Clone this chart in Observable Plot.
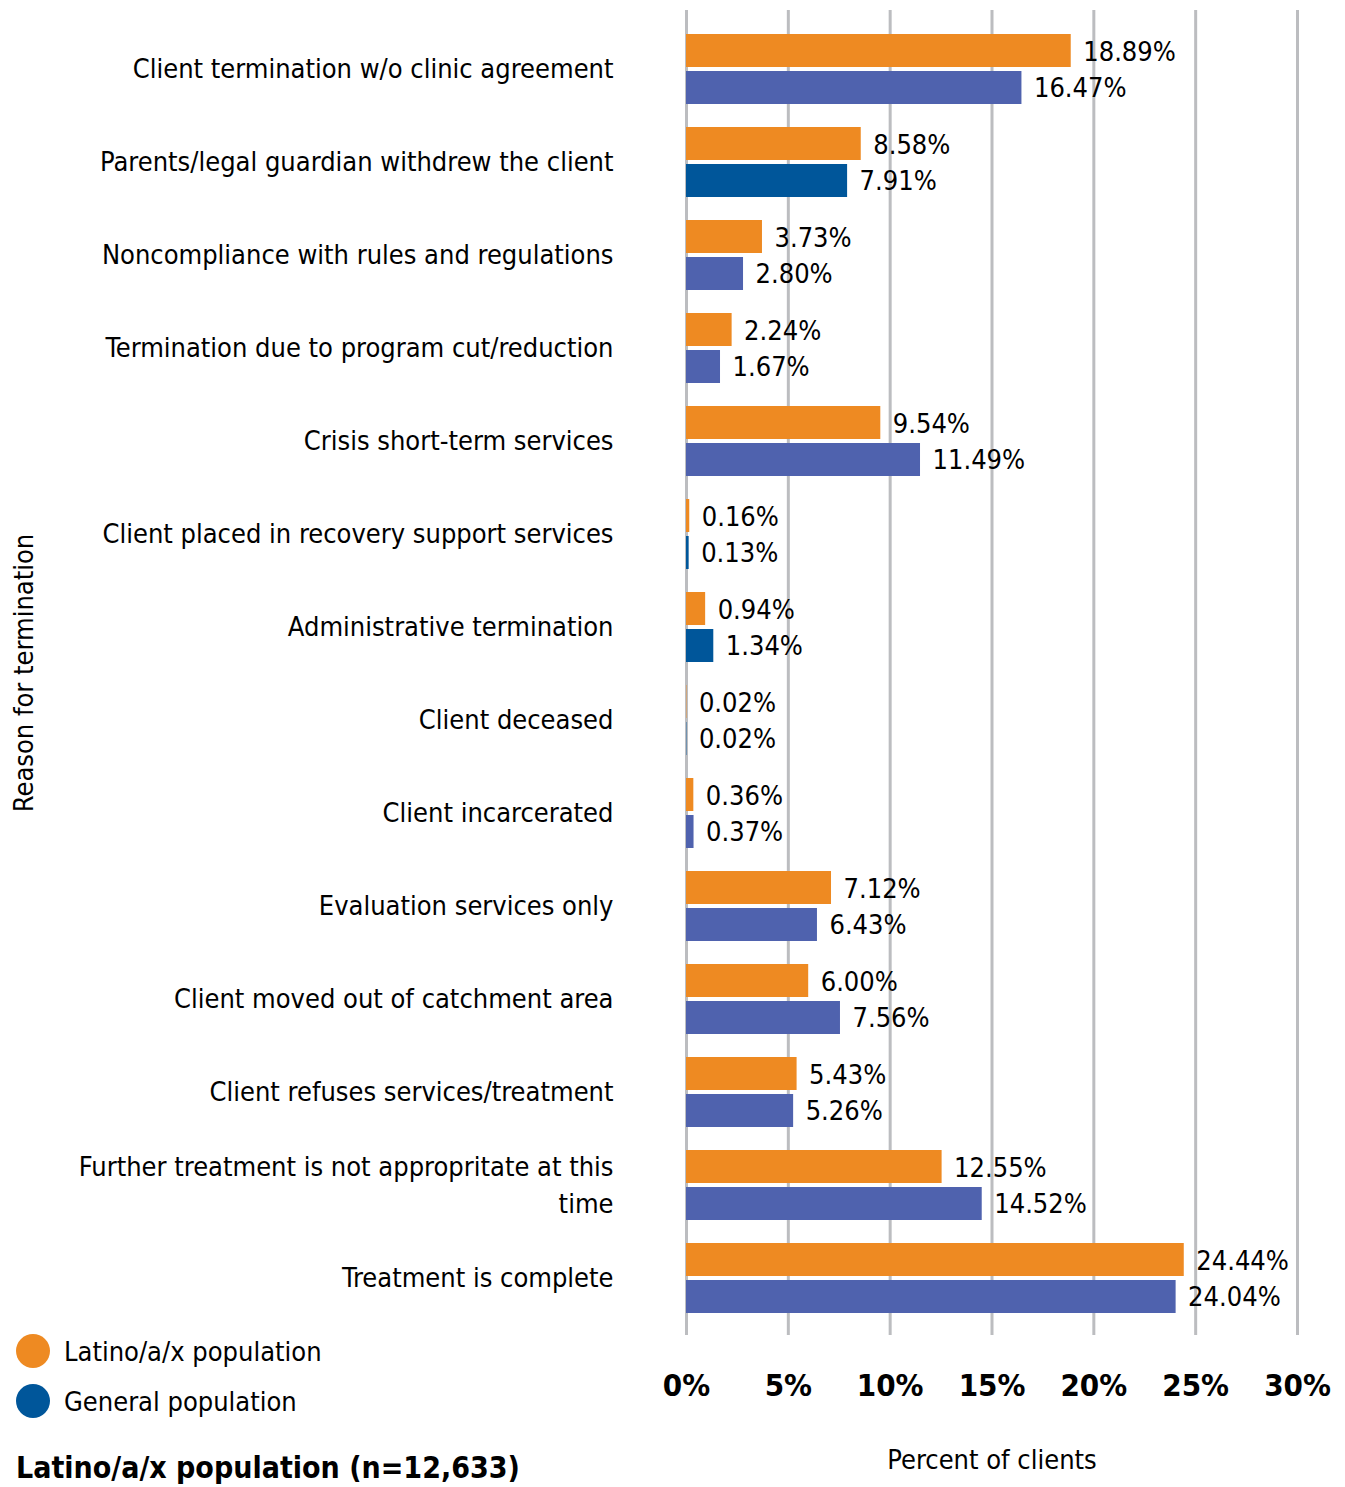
<!DOCTYPE html>
<html>
<head>
<meta charset="utf-8">
<script src="https://cdn.jsdelivr.net/npm/d3@7"></script>
<script src="https://cdn.jsdelivr.net/npm/@observablehq/plot@0.6"></script>
<style>
  html, body { margin: 0; padding: 0; background: #fff; }
  #wrap { position: relative; width: 1345px; height: 1487px; overflow: hidden; font-family: "DejaVu Sans Condensed", "DejaVu Sans", sans-serif; font-stretch: condensed; color: #000; }
  #wrap svg, #wrap svg text { font-stretch: condensed; }
  #legend { position: absolute; left: 16px; top: 1326px; }
  .item { display: flex; align-items: center; height: 50px; font-size: 27px; }
  .dot { width: 34px; height: 34px; border-radius: 50%; margin-right: 14px; }
  #caption { position: absolute; left: 16px; top: 1450px; font-size: 30px; font-weight: bold; white-space: nowrap; }
</style>
</head>
<body>
<div id="wrap">
  <div id="chart"></div>
  <div id="legend"></div>
  <div id="caption"></div>
</div>
<script>
const categories = [
  "Client termination w/o clinic agreement",
  "Parents/legal guardian withdrew the client",
  "Noncompliance with rules and regulations",
  "Termination due to program cut/reduction",
  "Crisis short-term services",
  "Client placed in recovery support services",
  "Administrative termination",
  "Client deceased",
  "Client incarcerated",
  "Evaluation services only",
  "Client moved out of catchment area",
  "Client refuses services/treatment",
  "Further treatment is not appropritate at this\ntime",
  "Treatment is complete"
];
const latino  = [18.89, 8.58, 3.73, 2.24, 9.54, 0.16, 0.94, 0.02, 0.36, 7.12, 6.00, 5.43, 12.55, 24.44];
const general = [16.47, 7.91, 2.80, 1.67, 11.49, 0.13, 1.34, 0.02, 0.37, 6.43, 7.56, 5.26, 14.52, 24.04];
const generalShade = ["light","dark","light","light","light","dark","dark","dark","light","light","light","light","light","light"];
const seriesNames = ["Latino/a/x population", "General population"];
const xTicks = [0, 5, 10, 15, 20, 25, 30];
const xLabel = "Percent of clients";
const yLabel = "Reason for termination";
const captionText = "Latino/a/x population (n=12,633)";

const ORANGE = "#EE8A22", LIGHTBLUE = "#4F62AE", DARKBLUE = "#00569A";
const FONT = "'DejaVu Sans Condensed', 'DejaVu Sans', sans-serif";

const latRows = categories.map((c, i) => ({cat: c, value: latino[i], series: seriesNames[0]}));
const genRows = categories.map((c, i) => ({cat: c, value: general[i], series: seriesNames[1], shade: generalShade[i]}));

const W = 1345, H = 1487;
const fmt = v => v.toFixed(2) + "%";

const chart = Plot.plot({
  width: W,
  height: H,
  marginLeft: 686,
  marginRight: 48,
  marginTop: 10,
  marginBottom: 152,
  style: {fontFamily: FONT, background: "#fff", color: "#000"},
  x: {domain: [0, 30], axis: null},
  y: {domain: categories, axis: null, range: [33, 1313], padding: 0, paddingInner: 0.25, paddingOuter: 0},
  marks: [
    Plot.ruleX(xTicks, {stroke: "#bcbdc0", strokeWidth: 3}),
    Plot.barX(latRows, {x: "value", y: "cat", fill: ORANGE, insetBottom: 37}),
    Plot.barX(genRows, {x: "value", y: "cat", fill: d => d.shade === "dark" ? DARKBLUE : LIGHTBLUE, insetTop: 37}),
    Plot.text(latRows, {x: "value", y: "cat", text: d => fmt(d.value), dy: -17, dx: 12, textAnchor: "start", fontSize: 27, fill: "#000"}),
    Plot.text(genRows, {x: "value", y: "cat", text: d => fmt(d.value), dy: 19, dx: 12, textAnchor: "start", fontSize: 27, fill: "#000"}),
    Plot.text(categories, {y: d => d, text: d => d, frameAnchor: "left", dx: -73, dy: -3, textAnchor: "end", fontSize: 27, lineHeight: 1.36, fill: "#000"}),
    Plot.text(xTicks, {x: d => d, text: d => d + "%", frameAnchor: "bottom", dy: 60, fontSize: 31, fontWeight: "bold", fill: "#000"}),
    Plot.text([xLabel], {text: d => d, frameAnchor: "bottom", dy: 133, fontSize: 27, fill: "#000"}),
    Plot.text([yLabel], {text: d => d, frameAnchor: "left", dx: -662, rotate: -90, textAnchor: "middle", fontSize: 27, fill: "#000"})
  ]
});
document.getElementById("chart").appendChild(chart);

const legend = d3.select("#legend");
[[seriesNames[0], ORANGE], [seriesNames[1], DARKBLUE]].forEach(([name, col]) => {
  const it = legend.append("div").attr("class", "item");
  it.append("div").attr("class", "dot").style("background", col);
  it.append("span").text(name);
});
d3.select("#caption").text(captionText);
</script>
</body>
</html>
